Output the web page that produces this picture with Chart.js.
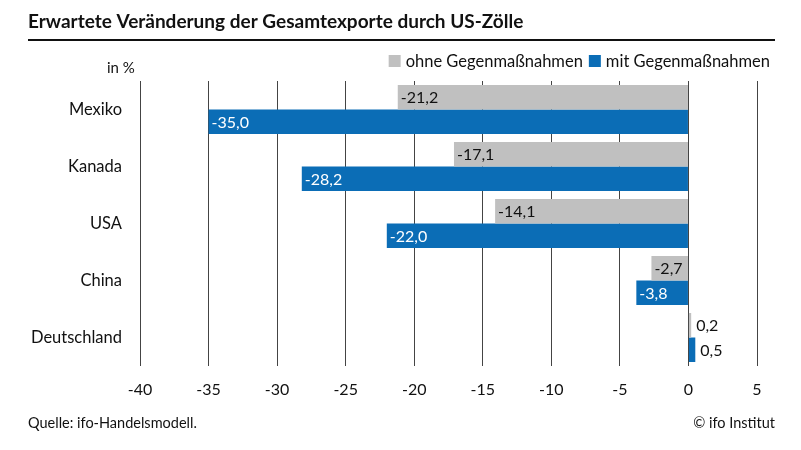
<!DOCTYPE html>
<html>
<head>
<meta charset="utf-8">
<script src="https://cdn.jsdelivr.net/npm/chart.js@4"></script>
<style>
  html, body { margin: 0; padding: 0; background: #fff; }
  #wrap { width: 801px; height: 450px; position: relative; }
</style>
</head>
<body>
<div id="wrap"><canvas id="chart" width="801" height="450"></canvas></div>
<script>
const countries = ["Mexiko", "Kanada", "USA", "China", "Deutschland"];
const ohneGegen = [-21.2, -17.1, -14.1, -2.7, 0.2];
const mitGegen = [-35.0, -28.2, -22.0, -3.8, 0.5];
const seriesNames = ["ohne Gegenmaßnahmen", "mit Gegenmaßnahmen"];

const fontFam = "Lato, 'Noto Sans', sans-serif";
const grey = "#c0c0c0";
const blue = "#0b6db6";

function fmt(v) {
  return v.toFixed(1).replace(".", ",");
}

// value labels at the end of each bar
const barLabels = {
  id: "barLabels",
  afterDatasetsDraw(chart) {
    const ctx = chart.ctx;
    ctx.save();
    ctx.font = "16px " + fontFam;
    ctx.textBaseline = "middle";
    ctx.textAlign = "left";
    chart.data.datasets.forEach((ds, i) => {
      const meta = chart.getDatasetMeta(i);
      meta.data.forEach((bar, j) => {
        const v = ds.data[j];
        if (v < 0) {
          ctx.fillStyle = i === 1 ? "#fff" : "#111";
          ctx.fillText(fmt(v), bar.x + 3, bar.y + 1);
        } else {
          ctx.fillStyle = "#111";
          ctx.fillText(fmt(v), bar.x + 5, bar.y + 1);
        }
      });
    });
    ctx.restore();
  }
};

// title, rule, legend, unit and footer
const frame = {
  id: "frame",
  afterDraw(chart) {
    const ctx = chart.ctx;
    ctx.save();
    ctx.fillStyle = "#111";
    ctx.textBaseline = "alphabetic";
    ctx.textAlign = "left";
    ctx.font = "bold 19px " + fontFam;
    ctx.fillText("Erwartete Veränderung der Gesamtexporte durch US-Zölle", 28, 28);

    ctx.strokeStyle = "#111";
    ctx.lineWidth = 2;
    ctx.beginPath();
    ctx.moveTo(28, 40);
    ctx.lineTo(775, 40);
    ctx.stroke();

    ctx.font = "15px " + fontFam;
    ctx.fillText("in %", 107, 73);

    // legend, right aligned
    ctx.font = "16.5px " + fontFam;
    const colors = [grey, blue];
    let x = 770;
    const items = [];
    for (let i = seriesNames.length - 1; i >= 0; i--) {
      const w = ctx.measureText(seriesNames[i]).width;
      x -= w;
      items.push({ text: seriesNames[i], tx: x, bx: x - 17, c: colors[i] });
      x -= 17 + 6;
    }
    items.forEach(it => {
      ctx.fillStyle = it.c;
      ctx.fillRect(it.bx, 55, 12, 12);
      ctx.fillStyle = "#111";
      ctx.fillText(it.text, it.tx, 67);
    });

    ctx.font = "14.5px " + fontFam;
    ctx.fillText("Quelle: ifo-Handelsmodell.", 28, 428);
    ctx.textAlign = "right";
    ctx.fillText("© ifo Institut", 775, 428);
    ctx.restore();
  }
};

new Chart(document.getElementById("chart"), {
  type: "bar",
  data: {
    labels: countries,
    datasets: [
      { label: seriesNames[0], data: ohneGegen, backgroundColor: grey },
      { label: seriesNames[1], data: mitGegen, backgroundColor: blue }
    ]
  },
  options: {
    indexAxis: "y",
    responsive: false,
    animation: false,
    devicePixelRatio: 1,
    categoryPercentage: 0.86,
    barPercentage: 1,
    layout: { padding: { top: 81, right: 44, bottom: 50, left: 0 } },
    plugins: {
      legend: { display: false },
      tooltip: { enabled: false },
      title: { display: false }
    },
    scales: {
      x: {
        min: -40,
        max: 5,
        ticks: {
          stepSize: 5,
          padding: 14,
          color: "#111",
          font: { family: fontFam, size: 16 }
        },
        grid: { color: "#444", lineWidth: 1, drawTicks: false },
        border: { display: false },
        afterFit(scale) { scale.height = 34; }
      },
      y: {
        ticks: {
          padding: 18,
          color: "#111",
          font: { family: fontFam, size: 16.5 }
        },
        grid: { display: false, drawTicks: false },
        border: { display: false },
        afterFit(scale) { scale.width = 140; }
      }
    }
  },
  plugins: [barLabels, frame]
});
</script>
</body>
</html>
